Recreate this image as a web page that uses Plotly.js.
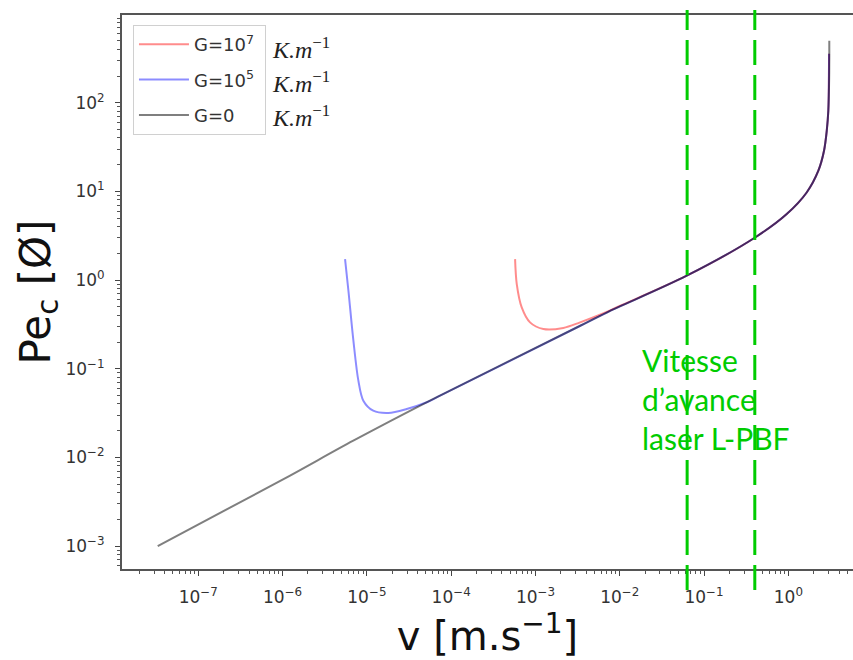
<!DOCTYPE html>
<html>
<head>
<meta charset="utf-8">
<script src="https://cdn.plot.ly/plotly-3.0.1.min.js"></script>
<style>html,body{margin:0;padding:0;background:#fff;overflow:hidden;}</style>
</head>
<body>
<div id="chart" style="width:853px;height:660px;"></div>
<script>
// ---- data ----
const seriesNames = ["G=10<sup>7</sup>\u00a0", "G=10<sup>5</sup>\u00a0", "G=0"];
const unitLabel = "<i>K.m</i><sup>−1</sup>";

const vG7 = [5.73e-4, 6.0e-4, 6.87e-4, 8.62e-4, 1.24e-3, 2.14e-3, 3.38e-3, 5.83e-3, 1.0e-2, 0.0623, 0.403, 0.957, 1.65, 2.27, 2.65, 2.855, 2.98, 3.04];
const peG7 = [1.72, 0.90, 0.491, 0.333, 0.280, 0.288, 0.333, 0.406, 0.51, 1.118, 3.02, 5.55, 9.72, 17.1, 28.7, 48.2, 81, 356];

const vG5 = [5.51e-6, 6.04e-6, 6.92e-6, 7.93e-6, 9.08e-6, 1.19e-5, 1.80e-5, 2.97e-5, 5.14e-5, 7.38e-5, 3.4e-3, 7.0e-3, 0.0623, 0.403, 0.957, 1.65, 2.27, 2.65, 2.855, 2.98, 3.04];
const peG5 = [1.72, 0.757, 0.207, 0.0733, 0.0436, 0.0336, 0.0317, 0.0351, 0.0418, 0.0496, 0.305, 0.43, 1.118, 3.02, 5.55, 9.72, 17.1, 28.7, 48.2, 81, 356];

const vG0 = [3.3e-8, 1e-6, 6.9e-6, 5.6e-5, 3.4e-3, 7.0e-3, 0.0623, 0.403, 0.957, 1.65, 2.27, 2.65, 2.855, 2.98, 3.05, 3.06];
const peG0 = [1.0e-3, 5.6e-3, 0.0154, 0.0436, 0.305, 0.43, 1.118, 3.02, 5.55, 9.72, 17.1, 28.7, 48.2, 81, 192, 499];

const laserSpeeds = [0.063, 0.4];
const laserText = "Vitesse<br>d’avance<br>laser L-PBF";

const xTickVals = [1e-7, 1e-6, 1e-5, 1e-4, 1e-3, 1e-2, 1e-1, 1e0];
const xTickText = ["10<sup>−7</sup>", "10<sup>−6</sup>", "10<sup>−5</sup>", "10<sup>−4</sup>", "10<sup>−3</sup>", "10<sup>−2</sup>", "10<sup>−1</sup>", "10<sup>0</sup>"];
const yTickVals = [1e-3, 1e-2, 1e-1, 1e0, 1e1, 1e2];
const yTickText = ["10<sup>−3</sup>", "10<sup>−2</sup>", "10<sup>−1</sup>", "10<sup>0</sup>", "10<sup>1</sup>", "10<sup>2</sup>"];

// ---- figure ----
const lineColors = ["rgba(255,0,0,0.45)", "rgba(0,0,255,0.45)", "rgba(0,0,0,0.5)"];
const xs = [vG7, vG5, vG0], ys = [peG7, peG5, peG0];
const data = xs.map((x, i) => ({
  x: x, y: ys[i], type: "scatter", mode: "lines", name: seriesNames[i],
  legendgroup: "g" + i,
  line: {color: lineColors[i], width: 2, shape: "spline", smoothing: 0.9}
}));

const green = "rgb(0,204,0)";
const shapes = laserSpeeds.map(v => ({
  type: "line", xref: "x", yref: "paper", x0: v, x1: v, y0: -0.038, y1: 1.009,
  line: {color: green, width: 3, dash: "25px,10px"}
}));

const annotations = [0.940, 0.879, 0.818].map(y => ({
  xref: "paper", yref: "paper", x: 0.2025, y: y, xanchor: "left", yanchor: "middle",
  text: unitLabel, showarrow: false,
  font: {family: "Liberation Serif", size: 24, color: "#222"}
}));
annotations.push({
  xref: "paper", yref: "paper", x: 0.709, y: 0.307, xanchor: "left", yanchor: "middle",
  text: laserText, showarrow: false, align: "left",
  font: {family: "Lato", size: 30, color: green}
});

const axisCommon = {
  type: "log", showgrid: false, zeroline: false, showline: true,
  linecolor: "#555", linewidth: 2, ticks: "outside", ticklen: 5, tickwidth: 1,
  tickcolor: "#444", tickmode: "array", ticklabelstandoff: 7,
  tickfont: {family: "DejaVu Sans", size: 17, color: "#333"},
  minor: {ticks: "outside", ticklen: 3, tickwidth: 1, tickcolor: "#555", dtick: "D1", showgrid: false}
};

const layout = {
  width: 853, height: 660,
  margin: {l: 122, r: 0, t: 15, b: 91},
  paper_bgcolor: "#fff", plot_bgcolor: "#fff",
  showlegend: true,
  legend: {x: 0.015, y: 0.982, xanchor: "left", yanchor: "top",
           traceorder: "grouped", tracegroupgap: 9, itemwidth: 50,
           bgcolor: "rgba(255,255,255,0.9)", bordercolor: "#d0d0d0", borderwidth: 1,
           font: {family: "DejaVu Sans", size: 18, color: "#333"}},
  xaxis: Object.assign({}, axisCommon, {
    range: [-7.905, 0.767], mirror: true,
    tickvals: xTickVals, ticktext: xTickText,
    title: {text: "v [m.s<sup>−1</sup>]", font: {family: "DejaVu Sans", size: 40, color: "#111"}, standoff: 5}
  }),
  yaxis: Object.assign({}, axisCommon, {
    range: [-3.259, 2.989], mirror: false,
    tickvals: yTickVals, ticktext: yTickText,
    title: {text: "Pe<sub>c</sub> [Ø]", font: {family: "DejaVu Sans", size: 42, color: "#111"}, standoff: 0}
  }),
  shapes: shapes,
  annotations: annotations
};

Plotly.newPlot("chart", data, layout, {staticPlot: true, displayModeBar: false});
</script>
</body>
</html>
